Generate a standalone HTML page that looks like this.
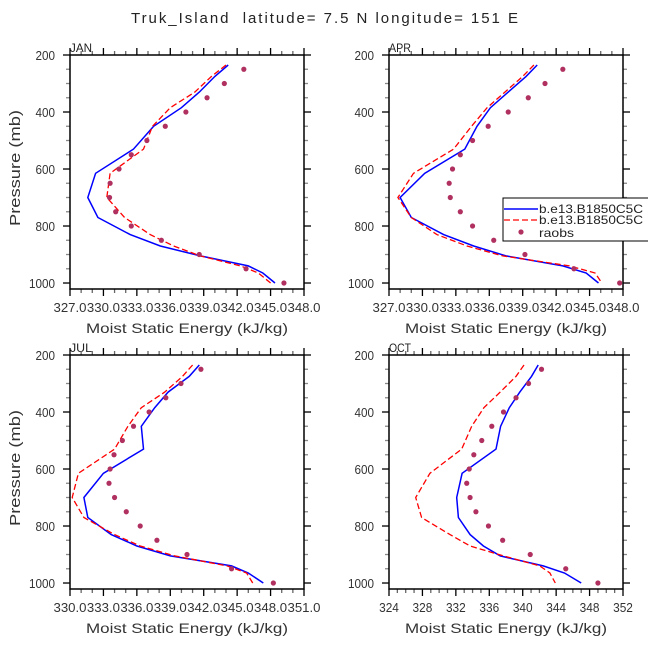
<!DOCTYPE html>
<html><head><meta charset="utf-8"><style>
html,body{margin:0;padding:0;background:#fff;}
svg{display:block;font-family:"Liberation Sans","DejaVu Sans",sans-serif;}
</style></head><body>
<svg id="chart" width="648" height="648" viewBox="0 0 648 648" xmlns="http://www.w3.org/2000/svg">
<text x="131" y="23" font-size="15" textLength="387" lengthAdjust="spacing" fill="#222" xml:space="preserve">Truk_Island  latitude= 7.5 N longitude= 151 E</text>
</svg>
<script>
// Shared pressure levels
const modelLevels = [235, 275, 330, 385, 450, 530, 615, 700, 770, 830, 870, 905, 940, 965, 1000];
const obsLevels = [250, 300, 350, 400, 450, 500, 550, 600, 650, 700, 750, 800, 850, 900, 950, 1000];
const yTicks = [200, 400, 600, 800, 1000];

// JAN
const janBlue = [341.2, 340.0, 338.6, 337.0, 334.5, 332.7, 329.3, 328.6, 329.5, 332.4, 335.1, 338.7, 343.0, 344.3, 345.4];
const janRed  = [341.0, 339.7, 338.2, 336.0, 334.4, 333.6, 330.6, 330.3, 331.9, 334.2, 336.3, 338.7, 342.3, 343.9, 345.0];
const janObs  = [342.6, 340.85, 339.3, 337.4, 335.55, 333.9, 332.5, 331.4, 330.6, 330.55, 331.1, 332.5, 335.2, 338.6, 342.8, 346.2];
const janXTicks = [327, 330, 333, 336, 339, 342, 345, 348];
// APR
const aprBlue = [340.3, 339.3, 337.7, 336.1, 334.9, 333.8, 330.2, 328.0, 329.0, 331.9, 334.6, 337.5, 342.6, 344.7, 345.8];
const aprRed  = [340.0, 339.0, 337.4, 335.8, 334.4, 332.8, 329.2, 327.8, 329.0, 331.3, 334.0, 337.2, 343.2, 345.5, 346.1];
const aprObs  = [342.6, 341.0, 339.5, 337.7, 335.9, 334.5, 333.4, 332.7, 332.4, 332.5, 333.4, 334.5, 336.4, 339.2, 343.6, 347.7];
const aprXTicks = [327, 330, 333, 336, 339, 342, 345, 348];
// JUL
const julBlue = [341.6, 340.7, 338.8, 337.6, 336.4, 336.6, 333.0, 331.25, 331.6, 333.7, 336.0, 339.0, 344.5, 346.0, 347.35];
const julRed  = [341.0, 340.1, 338.5, 336.4, 335.2, 334.0, 330.75, 330.2, 331.25, 334.0, 336.3, 339.4, 344.1, 345.85, 346.4];
const julObs  = [341.75, 339.96, 338.6, 337.1, 335.7, 334.7, 333.95, 333.6, 333.5, 334.0, 335.05, 336.3, 337.8, 340.5, 344.5, 348.25];
const julXTicks = [330, 333, 336, 339, 342, 345, 348, 351];
// OCT
const octBlue = [341.85, 341.05, 339.65, 338.4, 337.35, 336.8, 332.75, 332.1, 332.3, 333.7, 335.3, 337.3, 342.45, 345.0, 347.0];
const octRed  = [340.15, 339.2, 337.3, 335.35, 333.9, 332.7, 328.9, 327.2, 327.9, 331.3, 333.7, 337.7, 342.05, 343.25, 343.9];
const octObs  = [342.25, 340.7, 339.2, 337.7, 336.3, 335.1, 334.15, 333.6, 333.3, 333.7, 334.4, 335.9, 337.6, 340.9, 345.15, 349.0];
const octXTicks = [324, 328, 332, 336, 340, 344, 348, 352];

const svg = document.getElementById('chart');
const NS = 'http://www.w3.org/2000/svg';
function mk(tag, attrs){ const e=document.createElementNS(NS,tag); for(const k in attrs) e.setAttribute(k,attrs[k]); return e; }

function panel(id, name, L, T, W, H, xTicks, minorStep, fmt, blue, red, obs, showYTitle){
  const g = mk('g', {});
  
  
  svg.appendChild(g);
  const xmin = xTicks[0], xmax = xTicks[xTicks.length-1];
  const pTop = 200, pBot = 1021;
  const xs = v => L + (v - xmin) / (xmax - xmin) * W;
  const ys = p => T + (p - pTop) / (pBot - pTop) * H;

  const ml = mk('text', {x: L, y: T-3, 'font-size': 11.5, fill: '#222', textLength: 22, lengthAdjust: 'spacingAndGlyphs'});
  ml.textContent = name;
  
  
  g.appendChild(ml);

  for (let p = 200; p <= 1000; p += 50) {
    const major = p % 200 === 0;
    const len = major ? 7 : 4;
    const col = major ? '#000' : '#888';
    g.appendChild(mk('line', {x1: L-len, x2: L, y1: ys(p), y2: ys(p), stroke: col, 'stroke-width': 1.3}));
    g.appendChild(mk('line', {x1: L+W, x2: L+W+len, y1: ys(p), y2: ys(p), stroke: col, 'stroke-width': 1.3}));
  }
  yTicks.forEach(p => {
    const s = String(p);
    const t = mk('text', {x: L-15 - s.length*6.5, y: ys(p)+5, 'font-size': 13, fill: '#333', textLength: s.length*6.5, lengthAdjust: 'spacingAndGlyphs'});
    t.textContent = s;
    
    
    g.appendChild(t);
  });
  for (let v = xmin; v <= xmax + 1e-9; v += minorStep) {
    const major = xTicks.some(t => Math.abs(t - v) < 1e-6);
    const len = major ? 7 : 4;
    g.appendChild(mk('line', {x1: xs(v), x2: xs(v), y1: T+H, y2: T+H+len, stroke: major ? '#000' : '#666', 'stroke-width': 1.3}));
    g.appendChild(mk('line', {x1: xs(v), x2: xs(v), y1: T-len, y2: T, stroke: major ? '#000' : '#666', 'stroke-width': 1.3}));
  }
  xTicks.forEach(v => {
    const s = fmt(v);
    const w = s.length * 6.6;
    const t = mk('text', {x: xs(v) - w/2, y: T+H+23, 'font-size': 13, fill: '#333', textLength: w, lengthAdjust: 'spacingAndGlyphs'});
    t.textContent = s;
    
    
    g.appendChild(t);
  });
  const xt = mk('text', {x: L+W/2-101, y: T+H+44, 'font-size': 14, fill: '#333', textLength: 202, lengthAdjust: 'spacingAndGlyphs'});
  xt.textContent = 'Moist Static Energy (kJ/kg)';
  
  
  g.appendChild(xt);
  if (showYTitle) {
    const yt = mk('text', {x: -58, y: 0, 'font-size': 15, fill: '#333', textLength: 116, lengthAdjust: 'spacingAndGlyphs', transform: `translate(20,${T+H/2-4}) rotate(-90)`});
    yt.textContent = 'Pressure (mb)';
    
    
    g.appendChild(yt);
  }
  const pts = arr => arr.map((v,i) => xs(v).toFixed(1) + ',' + ys(modelLevels[i]).toFixed(1)).join(' ');
  const bl = mk('polyline', {points: pts(blue), fill: 'none', stroke: '#0000ff', 'stroke-width': 1.5});
  
  
  g.appendChild(bl);
  const rl = mk('polyline', {points: pts(red), fill: 'none', stroke: '#ff0000', 'stroke-width': 1.3, 'stroke-dasharray': '6,3'});
  
  
  g.appendChild(rl);
  obs.forEach((v,i) => {
    const c = mk('circle', {cx: xs(v), cy: ys(obsLevels[i]), r: 2.6, fill: '#b03060'});
    
    
    g.appendChild(c);
  });
  const fr = mk('rect', {x: L, y: T, width: W, height: H, fill: 'none', stroke: '#000', 'stroke-width': 1.5});
  
  
  g.appendChild(fr);
  return {xs, ys, g};
}
const f1 = v => v.toFixed(1);
const f0 = v => String(v);
panel('jan', 'JAN', 70, 55, 234, 234, janXTicks, 1, f1, janBlue, janRed, janObs, true);
panel('apr', 'APR', 389, 55, 234, 234, aprXTicks, 1, f1, aprBlue, aprRed, aprObs, false);
panel('jul', 'JUL', 70, 355, 234, 234, julXTicks, 1, f1, julBlue, julRed, julObs, true);
panel('oct', 'OCT', 389, 355, 234, 234, octXTicks, 1, f0, octBlue, octRed, octObs, false);

const lg = mk('g', {});


svg.appendChild(lg);
lg.appendChild(mk('rect', {x: 503, y: 198, width: 160, height: 43, fill: '#fff', stroke: '#000', 'stroke-width': 1}));
const l1 = mk('line', {x1: 504, x2: 538, y1: 209, y2: 209, stroke: '#0000ff', 'stroke-width': 1.5});


lg.appendChild(l1);
const l2 = mk('line', {x1: 504, x2: 538, y1: 220, y2: 220, stroke: '#ff0000', 'stroke-width': 1.3, 'stroke-dasharray': '6,3'});


lg.appendChild(l2);
const l3 = mk('circle', {cx: 521, cy: 232, r: 2.6, fill: '#b03060'});


lg.appendChild(l3);
[['b.e13.B1850C5C', 213, 104], ['b.e13.B1850C5C', 224, 104], ['raobs', 237, 35]].forEach(d => {
  const t = mk('text', {x: 539, y: d[1], 'font-size': 12, fill: '#222', textLength: d[2], lengthAdjust: 'spacingAndGlyphs'});
  t.textContent = d[0];
  
  
  lg.appendChild(t);
});
</script>
</body></html>
